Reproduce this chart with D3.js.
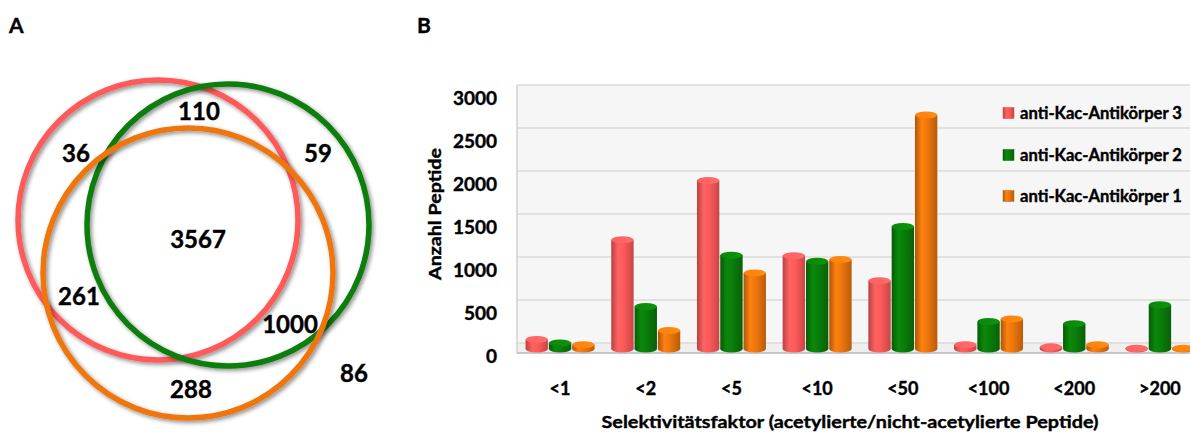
<!DOCTYPE html>
<html><head><meta charset="utf-8">
<script src="https://cdn.jsdelivr.net/npm/d3@7"></script>
<style>
html,body{margin:0;padding:0;background:#fff;}
svg{display:block;font-family:Lato,"Open Sans",sans-serif;font-weight:bold;}
svg text{stroke:#000;stroke-width:0.4px;}
</style></head>
<body>
<svg id="c" width="1190" height="432"></svg>
<script>
// ---------- data ----------
const categories = ["<1","<2","<5","<10","<50","<100","<200",">200"];
const seriesNames = ["anti-Kac-Antikörper 3","anti-Kac-Antikörper 2","anti-Kac-Antikörper 1"];
const ab3Values = [110, 1270, 1960, 1085, 795, 50, 25, 8];
const ab2Values = [70, 495, 1090, 1020, 1425, 320, 295, 515];
const ab1Values = [50, 215, 885, 1040, 2720, 350, 50, 8];
const yTicks = [0, 500, 1000, 1500, 2000, 2500, 3000];
const seriesColors = ["#ff5a5a", "#0a7d0a", "#ee760d"];
// Venn region counts
const vennRegions = ["only3","3and2","only2","all","3and1","2and1","only1","none"];
const vennCounts = [36, 110, 59, 3567, 261, 1000, 288, 86];

const svg = d3.select("#c");
const defs = svg.append("defs");

// ---------- panel labels ----------
svg.append("text").attr("x",9).attr("y",33).attr("font-size",21).text("A");
svg.append("text").attr("x",417).attr("y",33).attr("font-size",21).text("B");

// ---------- Venn (panel A) ----------
const shadow = defs.append("filter").attr("id","sh").attr("x","-20%").attr("y","-20%").attr("width","140%").attr("height","140%");
shadow.append("feDropShadow").attr("dx",2).attr("dy",2).attr("stdDeviation",2.2).attr("flood-color","#000").attr("flood-opacity",0.45);

const vennCircles = [
  {cx:158, cy:220, r:140, color:seriesColors[0]},
  {cx:228, cy:225, r:141, color:seriesColors[1]},
  {cx:188, cy:273, r:145, color:seriesColors[2]}
];
const vennPos = {only3:[76,152], "3and2":[199,110], only2:[318,152], all:[198,238],
                 "3and1":[79,295], "2and1":[290,323], only1:[191,388], none:[354,372]};
svg.append("g").selectAll("circle").data(vennCircles).join("circle")
  .attr("cx",d=>d.cx).attr("cy",d=>d.cy).attr("r",d=>d.r)
  .attr("fill","none").attr("stroke",d=>d.color).attr("stroke-width",5.5)
  .attr("filter","url(#sh)");
svg.append("g").selectAll("text").data(vennRegions).join("text")
  .attr("x",d=>vennPos[d][0]).attr("y",d=>vennPos[d][1])
  .attr("text-anchor","middle").attr("dominant-baseline","central")
  .attr("font-size",24).attr("fill","#000")
  .text((d,i)=>vennCounts[i]);

// ---------- Bar chart (panel B) ----------
const depth = 6; // back-wall offset
const x = d3.scaleBand().domain(categories).range([517,1203]).paddingInner(0.195).paddingOuter(0.1);
const xs = d3.scaleBand().domain(seriesNames).range([0,x.bandwidth()]).paddingInner(0.04);
const y = d3.scaleLinear().domain([0,3000]).range([349,91]);

const plotLeft = 517, plotRight = 1190;
const g = svg.append("g");
g.append("rect").attr("x",plotLeft).attr("y",y(3000)-depth).attr("width",plotRight-plotLeft)
  .attr("height",y(0)-y(3000)).attr("fill","#f6f6f6");
g.append("rect").attr("x",plotLeft).attr("y",y(0)-depth).attr("width",plotRight-plotLeft)
  .attr("height",depth+4).attr("fill","#efefef");
g.append("g").selectAll("line").data(yTicks).join("line")
  .attr("x1",plotLeft).attr("x2",plotRight)
  .attr("y1",d=>y(d)-depth).attr("y2",d=>y(d)-depth)
  .attr("stroke","#dadada").attr("stroke-width",1.5);
g.append("line").attr("x1",plotLeft).attr("x2",plotLeft).attr("y1",y(3000)-depth).attr("y2",y(0)+4)
  .attr("stroke","#d0d0d0").attr("stroke-width",1.5);
g.append("line").attr("x1",plotLeft).attr("x2",plotRight).attr("y1",y(0)+4).attr("y2",y(0)+4)
  .attr("stroke","#b8b8b8").attr("stroke-width",1.5);

// y tick labels
g.append("g").selectAll("text").data(yTicks).join("text")
  .attr("x",497).attr("y",d=>y(d)+6).attr("text-anchor","end").attr("dominant-baseline","central")
  .attr("font-size",19).text(d=>d);
// y title
svg.append("text").attr("transform","translate(441,214) rotate(-90)")
  .attr("text-anchor","middle").attr("font-size",17.5)
  .attr("textLength",132).attr("lengthAdjust","spacingAndGlyphs").text("Anzahl Peptide");

// cylinder gradients
seriesColors.forEach((c,i)=>{
  const base = d3.color(c);
  const gr = defs.append("linearGradient").attr("id","cyl"+i).attr("x1","0").attr("x2","1").attr("y1","0").attr("y2","0");
  gr.append("stop").attr("offset","0").attr("stop-color",base.darker(0.9));
  gr.append("stop").attr("offset","0.3").attr("stop-color",base.brighter(0.25));
  gr.append("stop").attr("offset","0.55").attr("stop-color",base);
  gr.append("stop").attr("offset","1").attr("stop-color",base.darker(0.7));
  const cap = defs.append("linearGradient").attr("id","cap"+i).attr("x1","0").attr("x2","1").attr("y1","0").attr("y2","0");
  cap.append("stop").attr("offset","0").attr("stop-color",base.brighter(0.2));
  cap.append("stop").attr("offset","1").attr("stop-color",base.brighter(0.5));
});

const allSeries = [ab3Values, ab2Values, ab1Values];
const ry = 3.5;
allSeries.forEach((vals,si)=>{
  const sg = g.append("g");
  const data = categories.map((c,ci)=>({c, v:vals[ci]}));
  const bx = d=>x(d.c)+xs(seriesNames[si]);
  const bw = xs.bandwidth();
  sg.selectAll(".bot").data(data).join("ellipse")
    .attr("cx",d=>bx(d)+bw/2).attr("cy",y(0)).attr("rx",bw/2).attr("ry",ry)
    .attr("fill",`url(#cyl${si})`);
  sg.selectAll(".body").data(data).join("rect")
    .attr("x",bx).attr("y",d=>y(d.v)).attr("width",bw).attr("height",d=>y(0)-y(d.v))
    .attr("fill",`url(#cyl${si})`);
  sg.selectAll(".top").data(data).join("ellipse")
    .attr("cx",d=>bx(d)+bw/2).attr("cy",d=>y(d.v)).attr("rx",bw/2).attr("ry",ry)
    .attr("fill",`url(#cap${si})`);
});

// x tick labels
g.append("g").selectAll("text").data(categories).join("text")
  .attr("x",d=>x(d)+x.bandwidth()/2).attr("y",395)
  .attr("text-anchor","middle").attr("font-size",18).text(d=>d);
// x title
svg.append("text").attr("x",850).attr("y",428).attr("text-anchor","middle")
  .attr("font-size",17.5).attr("textLength",497).attr("lengthAdjust","spacingAndGlyphs")
  .text("Selektivitätsfaktor (acetylierte/nicht-acetylierte Peptide)");

// legend
const leg = svg.append("g");
const legY = [113,155,196];
seriesNames.forEach((n,i)=>{
  const base = d3.color(seriesColors[i]);
  leg.append("rect").attr("x",1003).attr("y",legY[i]-5.5).attr("width",11).attr("height",11)
    .attr("fill",`url(#cyl${i})`).attr("stroke",base.darker(0.5)).attr("stroke-width",0.5);
  leg.append("text").attr("x",1020).attr("y",legY[i]).attr("dominant-baseline","central")
    .attr("font-size",16.5).attr("textLength",162).attr("lengthAdjust","spacingAndGlyphs").text(n);
});
</script>
</body></html>
